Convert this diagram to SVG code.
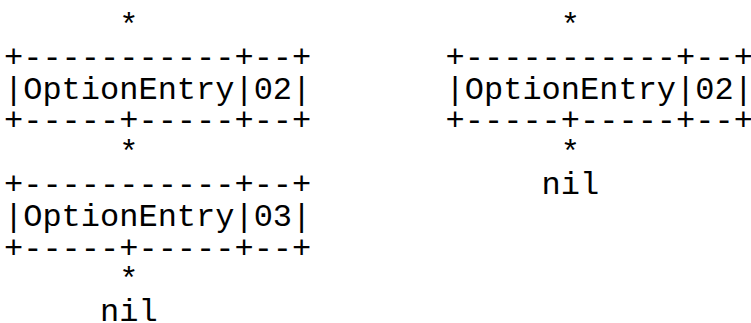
<svg xmlns="http://www.w3.org/2000/svg" width="751" height="323" viewBox="0 0 751 323">
<style>
text{font-family:"Liberation Mono","Courier New",monospace;font-size:32px;fill:#000;white-space:pre}
</style>
<rect width="751" height="323" fill="#fff"/>
<g id="node-entry-02-left">
<text x="4" y="66.6">+-----------+--+</text>
<text x="4" y="98.5">|OptionEntry|02|</text>
<text x="4" y="130.3">+-----+-----+--+</text>
</g>
<g id="node-entry-03-left">
<text x="4" y="193.9">+-----------+--+</text>
<text x="4" y="225.8">|OptionEntry|03|</text>
<text x="4" y="257.6">+-----+-----+--+</text>
</g>
<g id="node-entry-02-right">
<text x="445.6" y="66.6">+-----------+--+</text>
<text x="445.6" y="98.5">|OptionEntry|02|</text>
<text x="445.6" y="130.3">+-----+-----+--+</text>
</g>
<g id="connectors">
<text x="119.2" y="34.8">*</text>
<text x="119.2" y="162.1">*</text>
<text x="119.2" y="289.4">*</text>
<text x="100" y="321.2">nil</text>
<text x="560.8" y="34.8">*</text>
<text x="560.8" y="162.1">*</text>
<text x="541.6" y="193.9">nil</text>
</g>
</svg>
